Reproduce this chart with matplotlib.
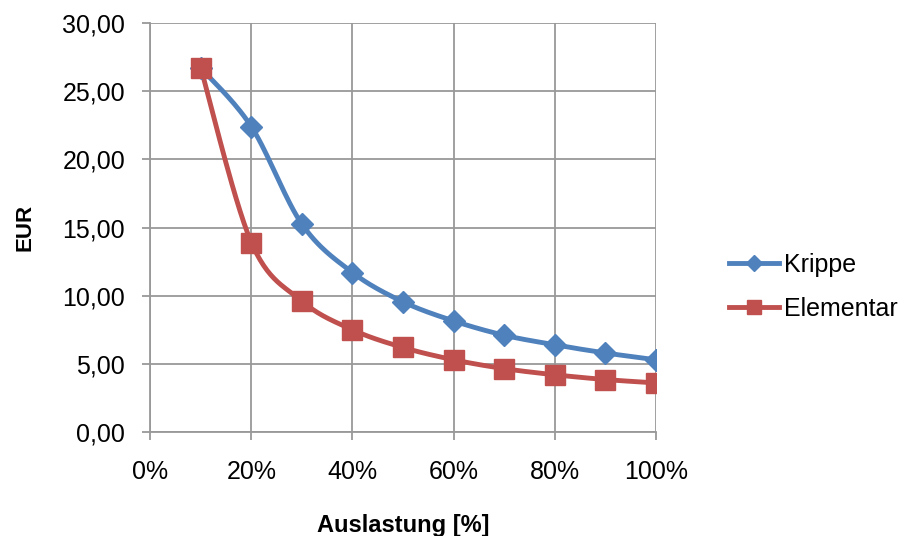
import numpy as np
import matplotlib
matplotlib.use("Agg")
import matplotlib.pyplot as plt
from matplotlib.ticker import FuncFormatter

plt.rcParams['font.family'] = ['Liberation Sans', 'DejaVu Sans']

auslastung = [0.1, 0.2, 0.3, 0.4, 0.5, 0.6, 0.7, 0.8, 0.9, 1.0]
krippe = [26.7, 22.4, 15.25, 11.7, 9.55, 8.15, 7.1, 6.4, 5.8, 5.3]
elementar = [26.7, 13.9, 9.6, 7.5, 6.2, 5.3, 4.65, 4.2, 3.85, 3.6]
series_names = ["Krippe", "Elementar"]
colors = ["#4F81BD", "#C0504D"]
markers = ["D", "s"]


def smooth(x, y, n=30):
    # Catmull-Rom (Excel-like smoothed line)
    x = np.asarray(x, float); y = np.asarray(y, float)
    px = np.concatenate([[x[0]], x, [x[-1]]])
    py = np.concatenate([[y[0]], y, [y[-1]]])
    xs, ys = [], []
    t = np.linspace(0, 1, n)
    for i in range(1, len(px) - 2):
        p0 = np.array([px[i - 1], py[i - 1]]); p1 = np.array([px[i], py[i]])
        p2 = np.array([px[i + 1], py[i + 1]]); p3 = np.array([px[i + 2], py[i + 2]])
        c1 = p1 + (p2 - p0) / 6
        c2 = p2 - (p3 - p1) / 6
        b = ((1 - t) ** 3)[:, None] * p1 + (3 * (1 - t) ** 2 * t)[:, None] * c1 \
            + (3 * (1 - t) * t ** 2)[:, None] * c2 + (t ** 3)[:, None] * p2
        xs.extend(b[:, 0]); ys.extend(b[:, 1])
    return np.array(xs), np.array(ys)


fig = plt.figure(figsize=(9.16, 5.36), dpi=100)
ax = fig.add_axes([0.164, 0.194, 0.552, 0.763])

for vals, name, c, m, ms in zip([krippe, elementar], series_names, colors, markers, [11, 14]):
    sx, sy = smooth(auslastung, vals)
    ax.plot(sx, sy, color=c, lw=3.5, solid_capstyle='round', zorder=3)
    ax.plot(auslastung, vals, linestyle='none', marker=m, ms=ms, color=c, zorder=4)
    ax.plot([], [], color=c, lw=3.5, marker=m, ms=ms * 0.75, label=name)

ax.set_xlim(0, 1.0)
ax.set_ylim(0, 30)
ax.set_xticks(np.arange(0, 1.01, 0.2))
ax.set_yticks(np.arange(0, 30.1, 5))
ax.xaxis.set_major_formatter(FuncFormatter(lambda v, p: f"{v*100:.0f}%"))
ax.yaxis.set_major_formatter(FuncFormatter(lambda v, p: f"{v:.2f}".replace('.', ',')))
ax.grid(True, color='#999999', lw=1.3)
ax.set_axisbelow(True)
for s in ['top', 'right']:
    ax.spines[s].set_visible(False)
for s in ['left', 'bottom']:
    ax.spines[s].set_color('#999999')
    ax.spines[s].set_linewidth(1.3)
ax.tick_params(axis='both', labelsize=18, color='#999999', width=1.3, length=6)
ax.tick_params(axis='x', pad=14)
ax.tick_params(axis='y', pad=12)

ax.set_ylabel("EUR", fontsize=16, fontweight='bold', labelpad=19)
ax.set_xlabel("Auslastung [%]", fontsize=17, fontweight='bold', labelpad=22)

ax.legend(loc='center left', bbox_to_anchor=(1.10, 0.355), frameon=False,
          fontsize=18, handlelength=2.0, handletextpad=0.2, labelspacing=0.8)

fig.savefig("out.png", dpi=100)
